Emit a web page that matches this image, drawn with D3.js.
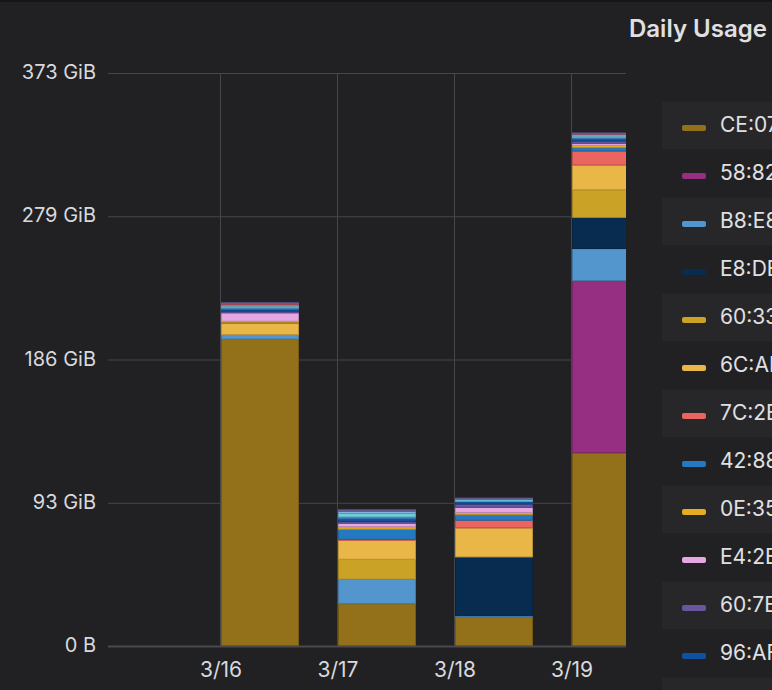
<!DOCTYPE html>
<html>
<head>
<meta charset="utf-8">
<script src="https://cdn.jsdelivr.net/npm/d3@7"></script>
<style>
  html, body { margin: 0; padding: 0; background: #212124; overflow: hidden; }
  svg { display: block; font-family: Inter, "Noto Sans", sans-serif; }
</style>
</head>
<body>
<svg id="chart" width="772" height="690"></svg>
<script>
// ---- data ----
const days = ["2023-03-16", "2023-03-17", "2023-03-18", "2023-03-19"];
const seriesNames = ["CE:07", "58:82", "B8:E8", "E8:DE", "60:33", "6C:AD", "7C:2B", "42:88", "0E:35", "E4:2B", "60:7E", "96:AF", "A4:5E", "F0:18", "3C:22", "D8:BB", "1A:9F"];
const seriesColors = ["#93711A", "#962F82", "#5396CE", "#082C50", "#C9A226", "#E9B748", "#EA6460", "#2479C1", "#E5AC21", "#E5A8E2", "#6A569C", "#0E51A0", "#447EBC", "#6ED0E0", "#82B5D8", "#E24D42", "#806EB7"];
// daily usage in GiB, per series, for each day
const usageCE07 = [199.6, 27.5, 18.7, 125.6];
const usage5882 = [0, 0, 0, 112.0];
const usageB8E8 = [2.8, 15.9, 1.0, 20.8];
const usageE8DE = [0, 0, 38.2, 20.2];
const usage6033 = [0, 13.0, 0, 18.0];
const usage6CAD = [7.6, 12.4, 18.9, 16.1];
const usage7C2B = [0, 0.6, 5.0, 9.1];
const usage4288 = [0.4, 6.5, 3.5, 2.2];
const usage0E35 = [0.7, 1.7, 1.5, 1.5];
const usageE42B = [5.5, 2.2, 3.3, 1.3];
const usage607E = [1.1, 1.1, 2.2, 1.5];
const usage96AF = [1.1, 1.7, 1.5, 1.3];
const usageA45E = [1.1, 1.3, 0.3, 0.9];
const usageF018 = [1.0, 2.2, 1.1, 1.1];
const usage3C22 = [0.9, 1.5, 0.3, 1.0];
const usageD8BB = [0.7, 0.3, 0.1, 0.2];
const usage1A9F = [0.6, 0.6, 0.5, 0.7];
const seriesValues = [usageCE07, usage5882, usageB8E8, usageE8DE, usage6033, usage6CAD, usage7C2B, usage4288, usage0E35, usageE42B, usage607E, usage96AF, usageA45E, usageF018, usage3C22, usageD8BB, usage1A9F];
const yTickBytes = [0, 1e11, 2e11, 3e11, 4e11];
const timeRange = ["2023-03-15T00:49:00", "2023-03-19T11:05:00"];
const title = "Daily Usage";

// ---- layout ----
const GiB = Math.pow(2, 30);
const plot = { left: 108, right: 626, top: 73, bottom: 646 };
const textColor = "#d8d9dc";
const gridColor = "#47474b";

const svg = d3.select("#chart");
svg.append("rect").attr("width", 772).attr("height", 690).attr("fill", "#212124");
svg.append("rect").attr("width", 772).attr("height", 2).attr("fill", "#161618");

const parseDay = d3.timeParse("%Y-%m-%d");
const parseTime = d3.timeParse("%Y-%m-%dT%H:%M:%S");
const x = d3.scaleTime()
  .domain(timeRange.map(parseTime))
  .range([plot.left, plot.right]);
const y = d3.scaleLinear()
  .domain([0, d3.max(yTickBytes) / GiB])
  .range([plot.bottom, plot.top]);

// stacked data
const table = days.map((d, i) => {
  const row = { day: parseDay(d) };
  seriesNames.forEach((n, s) => { row[n] = seriesValues[s][i]; });
  return row;
});
const stacked = d3.stack().keys(seriesNames)(table);
const color = d3.scaleOrdinal().domain(seriesNames).range(seriesColors);

// grid
const yTicks = yTickBytes.map(b => b / GiB);
const fmtY = b => b === 0 ? "0 B" : Math.round(b / GiB) + " GiB";
svg.append("g").selectAll("line").data(yTicks).join("line")
  .attr("x1", plot.left).attr("x2", plot.right)
  .attr("y1", d => y(d) + 0.5).attr("y2", d => y(d) + 0.5)
  .attr("stroke", gridColor).attr("stroke-width", 1);

const xTicks = x.ticks(d3.timeDay.every(1));
svg.append("g").selectAll("line").data(xTicks).join("line")
  .attr("x1", d => Math.round(x(d)) - 0.5).attr("x2", d => Math.round(x(d)) - 0.5)
  .attr("y1", plot.top).attr("y2", plot.bottom)
  .attr("stroke", gridColor).attr("stroke-width", 1);

// clip
svg.append("clipPath").attr("id", "plotclip").append("rect")
  .attr("x", plot.left).attr("y", plot.top - 5)
  .attr("width", plot.right - plot.left).attr("height", plot.bottom - plot.top + 5);

// bars
const barWidth = d => x(d3.timeHour.offset(d, 16)) - x(d);
const bars = svg.append("g").attr("clip-path", "url(#plotclip)");
stacked.forEach(layer => {
  const c = color(layer.key);
  bars.append("g").selectAll("rect")
    .data(layer.filter(p => p[1] - p[0] > 0))
    .join("rect")
    .attr("x", p => x(p.data.day) + 0.5)
    .attr("width", p => barWidth(p.data.day) - 1)
    .attr("y", p => y(p[1]))
    .attr("height", p => y(p[0]) - y(p[1]))
    .attr("fill", c)
    .attr("stroke", d3.color(c).darker(0.6))
    .attr("stroke-width", 1);
});

// axis line
svg.append("line")
  .attr("x1", plot.left).attr("x2", plot.right)
  .attr("y1", plot.bottom + 0.5).attr("y2", plot.bottom + 0.5)
  .attr("stroke", "#4a4a4e").attr("stroke-width", 2);

// y labels
svg.append("g").selectAll("text").data(yTickBytes).join("text")
  .attr("x", 96).attr("y", d => y(d / GiB) + 6)
  .attr("text-anchor", "end")
  .attr("fill", textColor).attr("font-size", 20)
  .text(fmtY);

// x labels
const fmtX = d3.timeFormat("%-m/%-d");
svg.append("g").selectAll("text").data(xTicks).join("text")
  .attr("x", d => x(d)).attr("y", 677)
  .attr("text-anchor", "middle")
  .attr("fill", textColor).attr("font-size", 21)
  .text(fmtX);

// title
svg.append("text")
  .attr("x", 629).attr("y", 37)
  .attr("fill", "#e0e0e3").attr("font-size", 24).attr("font-weight", 600)
  .text(title);

// legend
const legend = svg.append("g");
const rowH = 48, row0 = 125.5;
const rows = legend.selectAll("g").data(seriesNames).join("g")
  .attr("transform", (d, i) => `translate(0,${row0 + i * rowH})`);
rows.filter((d, i) => i % 2 === 0).append("rect")
  .attr("x", 662).attr("y", -rowH / 2).attr("width", 200).attr("height", rowH)
  .attr("fill", "#27272a");
rows.append("rect")
  .attr("x", 682).attr("y", -0.5).attr("width", 24).attr("height", 6).attr("rx", 2)
  .attr("fill", d => color(d));
rows.append("text")
  .attr("x", 720).attr("y", 6.5)
  .attr("fill", "#e0e0e3").attr("font-size", 21)
  .text(d => d);
</script>
</body>
</html>
